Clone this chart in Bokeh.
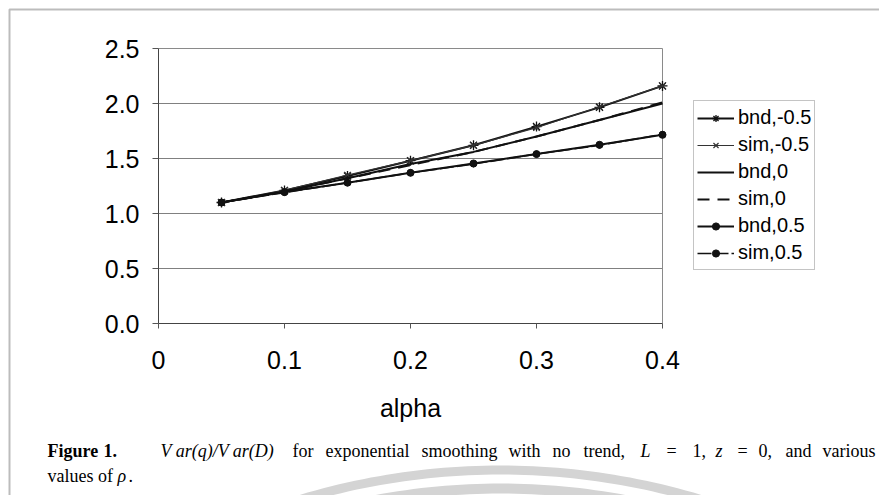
import math
from bokeh.plotting import figure
from bokeh.models import FixedTicker, Legend, LegendItem, Label, PolyAnnotation, Range1d
from bokeh.embed import file_html
from bokeh.resources import INLINE

# ---------------- data ----------------
alpha = [0.05, 0.10, 0.15, 0.20, 0.25, 0.30, 0.35, 0.40]
bnd_m05 = [1.10, 1.21, 1.34, 1.48, 1.62, 1.79, 1.965, 2.16]
sim_m05 = [1.10, 1.21, 1.35, 1.48, 1.62, 1.78, 1.97, 2.16]
bnd_0 = [1.10, 1.20, 1.32, 1.45, 1.56, 1.70, 1.85, 2.00]
sim_0 = [1.10, 1.20, 1.32, 1.44, 1.56, 1.70, 1.85, 2.01]
bnd_05 = [1.10, 1.195, 1.28, 1.37, 1.455, 1.54, 1.625, 1.715]
sim_05 = [1.10, 1.19, 1.28, 1.37, 1.45, 1.54, 1.62, 1.72]

x_ticks = [0, 0.1, 0.2, 0.3, 0.4]
x_tick_labels = ["0", "0.1", "0.2", "0.3", "0.4"]
y_ticks = [0, 0.5, 1.0, 1.5, 2.0, 2.5]
y_tick_labels = ["0.0", "0.5", "1.0", "1.5", "2.0", "2.5"]
x_label = "alpha"
X_MIN, X_MAX = 0.0, 0.4
Y_MIN, Y_MAX = 0.0, 2.5

# ---------------- layout (pixels) ----------------
W, H = 879, 495
PX_L, PX_R, PY_T, PY_B = 158, 662, 48, 323   # plot-area box on the canvas
KX = (PX_R - PX_L) / (X_MAX - X_MIN)
KY = (PY_B - PY_T) / (Y_MAX - Y_MIN)
x_start = X_MIN - PX_L / KX
x_end = X_MAX + (W - PX_R) / KX
y_end = Y_MAX + PY_T / KY
y_start = Y_MIN - (H - PY_B) / KY


def dx(px):
    return x_start + px / KX


def dy(py):
    return y_end - py / KY


SANS = "Liberation Sans"
SERIF = "Liberation Serif"
INK = "#111111"

p = figure(width=W, height=H, output_backend="svg", toolbar_location=None,
           x_range=Range1d(x_start, x_end), y_range=Range1d(y_start, y_end),
           min_border=0, min_border_left=0, min_border_right=0,
           min_border_top=0, min_border_bottom=0)
p.background_fill_color = "white"
p.border_fill_color = "white"
p.outline_line_color = None
p.xgrid.visible = False
p.ygrid.visible = False

for ax in (p.xaxis[0], p.yaxis[0]):
    ax.axis_line_color = "#444444"
    ax.axis_line_width = 1
    ax.major_tick_line_color = "#555555"
    ax.minor_tick_line_color = None
    ax.major_tick_in = 0
    ax.major_label_text_font = SANS
    ax.major_label_text_font_size = "25px"
    ax.major_label_text_color = "black"

p.xaxis.fixed_location = Y_MIN
p.xaxis.bounds = (X_MIN, X_MAX)
p.xaxis.ticker = FixedTicker(ticks=x_ticks)
p.xaxis.major_label_overrides = dict(zip(x_ticks, x_tick_labels))
p.xaxis.major_tick_out = 5
p.xaxis.major_label_standoff = 22
p.xaxis.axis_label = x_label
p.xaxis.axis_label_text_font = SANS
p.xaxis.axis_label_text_font_size = "25px"
p.xaxis.axis_label_text_font_style = "normal"
p.xaxis.axis_label_text_color = "black"
p.xaxis.axis_label_standoff = 22

p.yaxis.fixed_location = X_MIN
p.yaxis.bounds = (Y_MIN, Y_MAX)
p.yaxis.ticker = FixedTicker(ticks=y_ticks)
p.yaxis.major_label_overrides = dict(zip(y_ticks, y_tick_labels))
p.yaxis.major_tick_out = 6
p.yaxis.major_label_standoff = 13

# horizontal grid lines and plot-area border (top / right)
grid_vals = [v for v in y_ticks if Y_MIN < v < Y_MAX]
p.segment(x0=[X_MIN] * len(grid_vals), x1=[X_MAX] * len(grid_vals),
          y0=grid_vals, y1=grid_vals, line_color="#808080", line_width=1)
p.segment(x0=[X_MIN, X_MAX], x1=[X_MAX, X_MAX], y0=[Y_MAX, Y_MIN], y1=[Y_MAX, Y_MAX],
          line_color="#8a8a8a", line_width=1)

# ---------------- series ----------------
items = []

l1 = p.line(alpha, bnd_m05, line_color=INK, line_width=2)
m1 = p.scatter(alpha, bnd_m05, marker="asterisk", size=10, line_color=INK, line_width=1.3)
items.append(LegendItem(label="bnd,-0.5", renderers=[l1, m1]))

l2 = p.line(alpha, sim_m05, line_color="#333333", line_width=1.2)
m2 = p.scatter(alpha, sim_m05, marker="x", size=9, line_color="#333333", line_width=1.2)
items.append(LegendItem(label="sim,-0.5", renderers=[l2, m2]))

l3 = p.line(alpha, bnd_0, line_color=INK, line_width=2)
items.append(LegendItem(label="bnd,0", renderers=[l3]))

l4 = p.line(alpha, sim_0, line_color=INK, line_width=2, line_dash="12 8")
items.append(LegendItem(label="sim,0", renderers=[l4]))

l5 = p.line(alpha, bnd_05, line_color=INK, line_width=2)
m5 = p.scatter(alpha, bnd_05, marker="circle", size=7, fill_color=INK, line_color=INK)
items.append(LegendItem(label="bnd,0.5", renderers=[l5, m5]))

l6 = p.line(alpha, sim_05, line_color=INK, line_width=1.6, line_dash="14 3")
m6 = p.scatter(alpha, sim_05, marker="circle", size=6, fill_color=INK, line_color=INK)
items.append(LegendItem(label="sim,0.5", renderers=[l6, m6]))

legend = Legend(items=items, location=(693, H - 270))
legend.label_text_font = SANS
legend.label_text_font_size = "20px"
legend.label_text_color = "black"
legend.glyph_width = 37
legend.glyph_height = 18
legend.label_height = 27
legend.label_standoff = 4
legend.spacing = 0
legend.padding = 3
legend.margin = 0
legend.border_line_color = "#8a8a8a"
legend.border_line_width = 1
legend.background_fill_color = "white"
legend.background_fill_alpha = 1
p.add_layout(legend)

# ---------------- page frame ----------------
p.add_layout(PolyAnnotation(
    xs=[dx(9), dx(1000), dx(1000), dx(9)],
    ys=[dy(9), dy(9), dy(700), dy(700)],
    fill_alpha=0, line_color="#222222", line_width=2))

# ---------------- watermark arcs (decoration) ----------------
def band(cx, cy, r_out, r_in, a0, a1, n=60):
    xs, ys = [], []
    for i in range(n + 1):
        a = a0 + (a1 - a0) * i / n
        xs.append(dx(cx + r_out * math.cos(a)))
        ys.append(dy(cy - r_out * math.sin(a)))
    for i in range(n + 1):
        a = a1 - (a1 - a0) * i / n
        xs.append(dx(cx + r_in * math.cos(a)))
        ys.append(dy(cy - r_in * math.sin(a)))
    return xs, ys

for (ro, ri) in [(700, 691), (682, 672)]:
    bx, by = band(500, 1165, ro, ri, math.radians(70), math.radians(110))
    p.add_layout(PolyAnnotation(xs=bx, ys=by, fill_color="#d4d4d4",
                                fill_alpha=1, line_color=None))

# ---------------- caption ----------------
def cap(text, px, py, style="normal"):
    p.add_layout(Label(x=dx(px), y=dy(py), text=text, text_font=SERIF,
                       text_font_size="18px", text_font_style=style,
                       text_color="black", text_align="left",
                       text_baseline="middle"))

L1, L2 = 450, 475
cap("Figure", 47, L1, "bold")
cap("1.", 103, L1, "bold")
cap("V ar(q)/V ar(D)", 160, L1, "italic")
for word, px in [("for", 292), ("exponential", 325), ("smoothing", 421),
                 ("with", 508), ("no", 552), ("trend,", 583)]:
    cap(word, px, L1)
cap("L", 640, L1, "italic")
cap("=", 666, L1)
cap("1,", 692, L1)
cap("z", 715, L1, "italic")
cap("=", 737, L1)
cap("0,", 758, L1)
cap("and", 785, L1)
cap("various", 822, L1)
cap("values of", 47, L2)
cap("ρ", 117, L2, "italic")
cap(".", 128, L2)

open("out.html", "w").write(file_html(p, INLINE))
